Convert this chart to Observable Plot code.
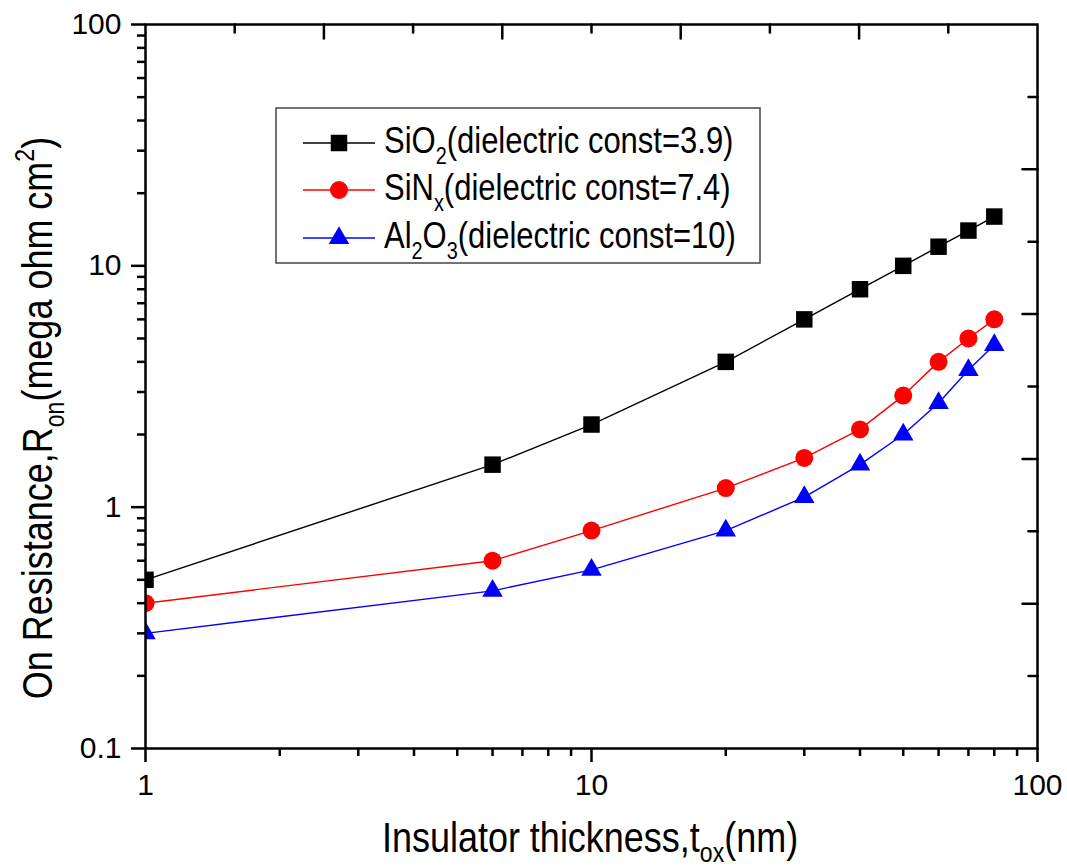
<!DOCTYPE html>
<html><head><meta charset="utf-8">
<script src="https://cdn.jsdelivr.net/npm/d3@7"></script>
<script src="https://cdn.jsdelivr.net/npm/@observablehq/plot@0.6"></script>
<style>html,body{margin:0;padding:0;background:#fff;}</style>
</head><body><div id="chart"></div>
<script>
// ---- data ----
const thickness = [1, 6, 10, 20, 30, 40, 50, 60, 70, 80];
const sio2  = [0.5, 1.5, 2.2, 4.0, 6.0, 8.0, 10, 12, 14, 16];
const sinx  = [0.4, 0.6, 0.8, 1.2, 1.6, 2.1, 2.9, 4.0, 5.0, 6.0];
const al2o3 = [0.3, 0.45, 0.55, 0.8, 1.1, 1.5, 2.0, 2.7, 3.7, 4.7];

const seriesNames = ["SiO2", "SiNx", "Al2O3"];
const seriesColors = ["#000000", "#ff0000", "#0000ff"];
const seriesSymbols = ["square", "circle", "triangle"];
const legendLabels = [
  [["SiO", ""], ["2", "sub"], ["(dielectric const=3.9)", ""]],
  [["SiN", ""], ["x", "sub"], ["(dielectric const=7.4)", ""]],
  [["Al", ""], ["2", "sub"], ["O", ""], ["3", "sub"], ["(dielectric const=10)", ""]]
];

const xMajor = [1, 10, 100];
const xMinor = [2, 3, 4, 5, 6, 7, 8, 9, 20, 30, 40, 50, 60, 70, 80, 90];
const yMajor = [0.1, 1, 10, 100];
const yMinor = [0.2, 0.3, 0.4, 0.5, 0.6, 0.7, 0.8, 0.9, 2, 3, 4, 5, 6, 7, 8, 9, 20, 30, 40, 50, 60, 70, 80, 90];
const topMajorExp = [0.4, 0.8, 1.2, 1.6];
const topMinorExp = [0.2, 0.6, 1.0, 1.4, 1.8];
const rightMajorExp = [1.4, 0.8, 0.2, -0.4];
const rightMinorExp = [1.7, 1.1, 0.5, -0.1, -0.7];

const xTitle = [["Insulator thickness,t", ""], ["ox", "sub"], ["(nm)", ""]];
const yTitle = [["On Resistance,R", ""], ["on", "sub"], ["(mega ohm cm", ""], ["2", "sup"], [")", ""]];

// ---- build ----
const valuesBySeries = [sio2, sinx, al2o3];
const rows = seriesNames.flatMap((s, k) => thickness.map((t, i) => ({series: s, t, v: valuesBySeries[k][i]})));
const symR = {square: 9.3, circle: 9.0, triangle: 7.6};
const tickShape = {draw(ctx, l) { ctx.moveTo(0, 0); ctx.lineTo(0, -l); }};
const FONT = "'Liberation Sans', Arial, Helvetica, sans-serif";
const TICKFONT = 30;

const marks = [];
seriesNames.forEach((s, k) => {
  const d = rows.filter(r => r.series === s);
  marks.push(Plot.line(d, {x: "t", y: "v", stroke: seriesColors[k], strokeWidth: 1.4, clip: true}));
});
seriesNames.forEach((s, k) => {
  const d = rows.filter(r => r.series === s);
  marks.push(Plot.dot(d, {x: "t", y: "v", symbol: seriesSymbols[k], r: symR[seriesSymbols[k]], fill: seriesColors[k], stroke: "none", clip: true}));
});
marks.push(
  Plot.frame({stroke: "black", strokeWidth: 2.5}),
  Plot.axisX(xMajor, {anchor: "bottom", tickSize: 14, tickPadding: 11, tickFormat: d => String(d), fontSize: TICKFONT, strokeWidth: 2.5, label: null}),
  Plot.axisX(xMinor, {anchor: "bottom", tickSize: 8, tickFormat: () => "", strokeWidth: 2.5, label: null}),
  Plot.axisY(yMajor, {anchor: "left", tickSize: 14, tickPadding: 10, tickFormat: d => String(d), fontSize: TICKFONT, strokeWidth: 2.5, label: null}),
  Plot.axisY(yMinor, {anchor: "left", tickSize: 8, tickFormat: () => "", strokeWidth: 2.5, label: null}),
  Plot.vector(topMajorExp.map(e => Math.pow(10, e)), {x: d => d, frameAnchor: "top", length: 14, rotate: 180, anchor: "start", shape: tickShape, stroke: "black", strokeWidth: 2.5}),
  Plot.vector(topMinorExp.map(e => Math.pow(10, e)), {x: d => d, frameAnchor: "top", length: 8, rotate: 180, anchor: "start", shape: tickShape, stroke: "black", strokeWidth: 2.5}),
  Plot.vector(rightMajorExp.map(e => Math.pow(10, e)), {y: d => d, frameAnchor: "right", length: 15, rotate: 270, anchor: "start", shape: tickShape, stroke: "black", strokeWidth: 2.5}),
  Plot.vector(rightMinorExp.map(e => Math.pow(10, e)), {y: d => d, frameAnchor: "right", length: 9, rotate: 270, anchor: "start", shape: tickShape, stroke: "black", strokeWidth: 2.5})
);

const plot = Plot.plot({
  width: 1067, height: 866,
  marginLeft: 145, marginRight: 30, marginTop: 24, marginBottom: 118,
  x: {type: "log", domain: [1, 100]},
  y: {type: "log", domain: [0.1, 100]},
  style: {fontFamily: FONT, fontSize: TICKFONT + "px", color: "black", background: "white", overflow: "visible"},
  marks
});

const svg = d3.select(plot);

function richText(g, parts, size, subShift) {
  const t = g.append("text").attr("font-size", size).attr("font-family", FONT).attr("fill", "black");
  let off = 0;
  parts.forEach(([s, kind]) => {
    const target = kind === "sub" ? subShift * size : kind === "sup" ? -0.42 * size : 0;
    t.append("tspan").attr("dy", (target - off).toFixed(2)).attr("font-size", kind ? 0.64 * size : size).text(s);
    off = target;
  });
  return t;
}

// axis titles
const gx = svg.append("g").attr("transform", "translate(590,852) scale(1,1.17)");
richText(gx, xTitle, 36, 0.24).attr("text-anchor", "middle");
const gy = svg.append("g").attr("transform", "translate(52,418) rotate(-90) scale(1,1.17)");
richText(gy, yTitle, 36, 0.28).attr("text-anchor", "middle");

// legend
const lg = svg.append("g");
lg.append("rect").attr("x", 276).attr("y", 108).attr("width", 484).attr("height", 155)
  .attr("fill", "white").attr("stroke", "#444").attr("stroke-width", 1.5);
const rowY = [143, 190, 238];
const d3sym = {square: d3.symbolSquare, circle: d3.symbolCircle, triangle: d3.symbolTriangle};
seriesNames.forEach((s, k) => {
  const y = rowY[k];
  lg.append("line").attr("x1", 303).attr("x2", 375).attr("y1", y).attr("y2", y)
    .attr("stroke", seriesColors[k]).attr("stroke-width", 1.4);
  const r = symR[seriesSymbols[k]];
  lg.append("path").attr("d", d3.symbol(d3sym[seriesSymbols[k]], Math.PI * r * r)())
    .attr("transform", `translate(339,${y})`).attr("fill", seriesColors[k]);
  const tg = lg.append("g").attr("transform", `translate(384,${y + 10}) scale(1,1.22)`);
  richText(tg, legendLabels[k], 31, 0.3).attr("text-anchor", "start");
});

document.getElementById("chart").appendChild(plot);
</script>
</body></html>
